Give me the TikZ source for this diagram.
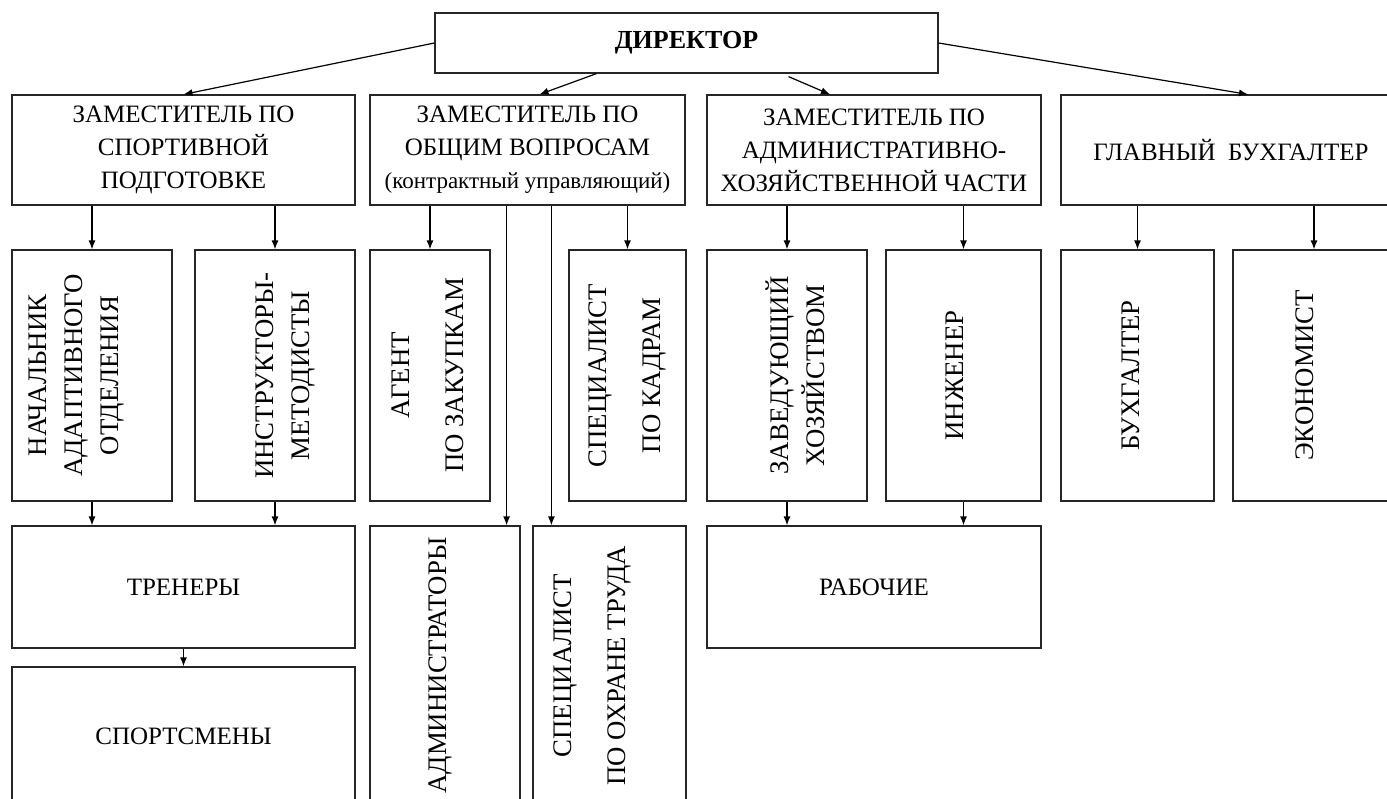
\documentclass[tikz,border=0pt]{standalone}
\usepackage{fontspec}
\setmainfont{Liberation Serif}
\usetikzlibrary{arrows.meta,calc,positioning}

\begin{document}
\begin{tikzpicture}[x=0.5pt,y=-0.5pt,>={Latex[length=4.5pt,width=3.5pt]},line width=0.6pt]
  \tikzstyle{every node}=[font=\fontsize{12.5}{16.5}\selectfont]
  \tikzstyle{box}=[draw=black!85,rectangle,align=center,inner sep=2pt]
  \tikzstyle{vtext}=[rotate=90,align=center,font=\fontsize{13.4}{18}\selectfont]
  \useasboundingbox (0,0) rectangle (1387,798);
  \clip (0,0) rectangle (1387,798);
  % director and deputies
  \node[box,minimum width=251.5pt,minimum height=30pt,font=\fontsize{13}{16}\selectfont\bfseries] (dir) at (686.5,43) {ДИРЕКТОР};
  \node[box,minimum width=171.5pt,minimum height=55pt] (zsp) at (183.5,150) {ЗАМЕСТИТЕЛЬ ПО\\СПОРТИВНОЙ\\ПОДГОТОВКЕ};
  \node[box,minimum width=157.5pt,minimum height=55pt] (zob) at (527.5,150) {ЗАМЕСТИТЕЛЬ ПО\\ОБЩИМ ВОПРОСАМ\\{\fontsize{11.5}{16.5}\selectfont(контрактный управляющий)}};
  \node[box,minimum width=167pt,minimum height=55pt] (zah) at (874,150) {ЗАМЕСТИТЕЛЬ ПО\\АДМИНИСТРАТИВНО-\\ХОЗЯЙСТВЕННОЙ ЧАСТИ};
  \node[box,minimum width=170pt,minimum height=55pt] (zbu) at (1231,150) {ГЛАВНЫЙ\ \ БУХГАЛТЕР};
  % second row, vertical text
  \node[box,minimum width=80pt,minimum height=125.5pt] (nach) at (92,375.5) {};
  \node[vtext] at ($(nach)+(-15,0)$) {НАЧАЛЬНИК\\АДАПТИВНОГО\\ОТДЕЛЕНИЯ};
  \node[box,minimum width=80pt,minimum height=125.5pt] (instr) at (275,375.5) {};
  \node[vtext] at ($(instr)+(10,0)$) {ИНСТРУКТОРЫ-\\МЕТОДИСТЫ};
  \node[box,minimum width=60pt,minimum height=125.5pt] (agent) at (430,375.5) {};
  \node[vtext] at ($(agent)+(-2,0)$) {АГЕНТ\\[9pt]ПО ЗАКУПКАМ};
  \node[box,minimum width=58.5pt,minimum height=125.5pt] (kadr) at (627.5,375.5) {};
  \node[vtext] at (kadr) {СПЕЦИАЛИСТ\\[9pt]ПО КАДРАМ};
  \node[box,minimum width=80pt,minimum height=125.5pt] (zav) at (787,375.5) {};
  \node[vtext] at ($(zav)+(8,0)$) {ЗАВЕДУЮЩИЙ\\ХОЗЯЙСТВОМ};
  \node[box,minimum width=77.5pt,minimum height=125.5pt] (inzh) at (963.5,375.5) {};
  \node[vtext] at ($(inzh)+(-9,0)$) {ИНЖЕНЕР};
  \node[box,minimum width=76.5pt,minimum height=125.5pt] (buh) at (1137.5,375.5) {};
  \node[vtext] at ($(buh)+(-7,0)$) {БУХГАЛТЕР};
  \node[box,minimum width=81pt,minimum height=125.5pt] (econ) at (1314,375.5) {};
  \node[vtext] at ($(econ)+(-9,0)$) {ЭКОНОМИСТ};
  % third row
  \node[box,minimum width=171.5pt,minimum height=61pt] (tren) at (183.5,587) {ТРЕНЕРЫ};
  \node[box,minimum width=75pt,minimum height=139.5pt] (adm) at (445,665.5) {};
  \node[vtext] at ($(adm)+(-5,0)$) {АДМИНИСТРАТОРЫ};
  \node[box,minimum width=76.5pt,minimum height=139.5pt] (ohr) at (609.5,665.5) {};
  \node[vtext] at ($(ohr)+(-17,0)$) {СПЕЦИАЛИСТ\\[9pt]ПО ОХРАНЕ ТРУДА};
  \node[box,minimum width=167pt,minimum height=61pt] (rab) at (874,587) {РАБОЧИЕ};
  \node[box,minimum width=171.5pt,minimum height=69pt] (sport) at (183.5,736) {СПОРТСМЕНЫ};
  % connectors
  \draw[->] (dir.west) -- (zsp.north);
  \draw[->] ($(dir.south)+(-90,0)$) -- ($(zob.north)+(12,0)$);
  \draw[->] ($(dir.south)+(102,3)$) -- ($(zah.north)+(-44,0)$);
  \draw[->] (dir.east) -- ($(zbu.north)+(17,0)$);
  \draw[->] (zsp.south -| nach.north) -- (nach.north);
  \draw[->] (zsp.south -| instr.north) -- (instr.north);
  \draw[->] (zob.south -| agent.north) -- (agent.north);
  \draw[->] (zob.south -| kadr.north) -- (kadr.north);
  \draw[->] (zah.south -| zav.north) -- (zav.north);
  \draw[->] (zah.south -| inzh.north) -- (inzh.north);
  \draw[->] (zbu.south -| buh.north) -- (buh.north);
  \draw[->] (zbu.south -| econ.north) -- (econ.north);
  \coordinate (a1) at ($(adm.north east)+(-14,0)$);
  \coordinate (a2) at ($(ohr.north west)+(19,0)$);
  \draw[->] (a1 |- zob.south) -- (a1);
  \draw[->] (a2 |- zob.south) -- (a2);
  \draw[->] (nach.south) -- (nach.south |- tren.north);
  \draw[->] (instr.south) -- (instr.south |- tren.north);
  \draw[->] (zav.south) -- (zav.south |- rab.north);
  \draw[->] (inzh.south) -- (inzh.south |- rab.north);
  \draw[->] (tren) -- (sport);
\end{tikzpicture}
\end{document}
